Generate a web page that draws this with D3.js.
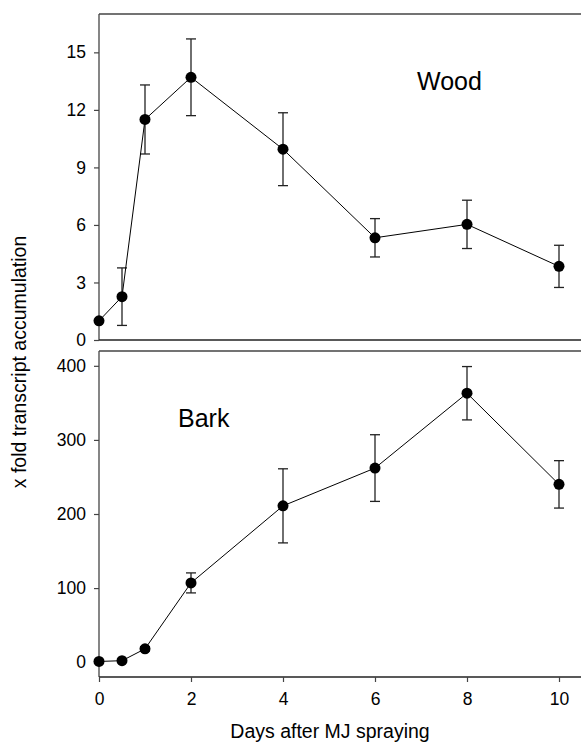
<!DOCTYPE html>
<html>
<head>
<meta charset="utf-8">
<script src="https://cdn.jsdelivr.net/npm/d3@7"></script>
<style>
  html, body { margin: 0; padding: 0; background: #fff; }
  svg { display: block; font-family: "Liberation Sans", Arial, sans-serif; }
</style>
</head>
<body>
<svg id="chart" width="581" height="743"></svg>
<script>
// Days after methyl jasmonate spraying
const days = [0, 0.5, 1, 2, 4, 6, 8, 10];

// Wood: fold accumulation and error
const woodMean = [1.0, 2.26, 11.5, 13.7, 9.95, 5.33, 6.03, 3.84];
const woodErr  = [0.05, 1.5, 1.8, 2.0, 1.9, 1.0, 1.26, 1.1];

// Bark: fold accumulation and error
const barkMean = [1, 2, 18, 107, 211, 262, 363, 240];
const barkErr  = [0.5, 1, 3, 13.5, 50, 45, 36, 32];

const woodTicks = [0, 3, 6, 9, 12, 15];
const barkTicks = [0, 100, 200, 300, 400];
const dayTicks  = [0, 2, 4, 6, 8, 10];

const svg = d3.select("#chart");
const frameColor = "#444";

const x = d3.scaleLinear().domain([0, 10.5]).range([99, 582]);

const panels = [
  { name: "Wood", mean: woodMean, err: woodErr, ticks: woodTicks,
    y: d3.scaleLinear().domain([0, 17]).range([340, 14]),
    label: { x: 417, y: 90 } },
  { name: "Bark", mean: barkMean, err: barkErr, ticks: barkTicks,
    y: d3.scaleLinear().domain([-20, 420]).range([677, 351]),
    label: { x: 178, y: 427 } }
];

panels.forEach((p, idx) => {
  const g = svg.append("g");
  const [y0, y1] = p.y.range();

  // left axis with ticks
  const yAxis = d3.axisLeft(p.y).tickValues(p.ticks).tickSize(5).tickPadding(8)
    .tickFormat(d3.format("d"));
  const ya = g.append("g").attr("transform", `translate(${x(0)},0)`).call(yAxis);
  ya.select(".domain").remove();
  ya.selectAll(".tick line").attr("stroke", frameColor).attr("stroke-width", 1.2);
  ya.selectAll(".tick text").attr("font-size", 17.5).attr("fill", "#000")
    .attr("font-family", "'Liberation Sans', Arial, sans-serif");

  // frame: left, top and bottom lines
  g.append("line").attr("x1", x(0)).attr("x2", x(0)).attr("y1", y1).attr("y2", y0)
    .attr("stroke", frameColor).attr("stroke-width", 1.3);
  g.append("line").attr("x1", x(0)).attr("x2", x.range()[1]).attr("y1", y1).attr("y2", y1)
    .attr("stroke", frameColor).attr("stroke-width", 1.5);
  g.append("line").attr("x1", x(0)).attr("x2", x.range()[1]).attr("y1", y0).attr("y2", y0)
    .attr("stroke", "#222").attr("stroke-width", 1.3);

  // bottom x axis ticks on the lower panel
  if (idx === 1) {
    const xAxis = d3.axisBottom(x).tickValues(dayTicks).tickSize(5).tickPadding(11)
      .tickFormat(d3.format("d"));
    const xa = g.append("g").attr("transform", `translate(0,${y0})`).call(xAxis);
    xa.select(".domain").remove();
    xa.selectAll(".tick line").attr("stroke", frameColor).attr("stroke-width", 1.2);
    xa.selectAll(".tick text").attr("font-size", 17.5).attr("fill", "#000")
      .attr("font-family", "'Liberation Sans', Arial, sans-serif");
  }

  const pts = days.map((d, i) => ({ d, m: p.mean[i], e: p.err[i] }));

  // error bars
  const eb = g.append("g").attr("stroke", "#222").attr("stroke-width", 1.3);
  pts.forEach(pt => {
    const cx = x(pt.d), top = p.y(pt.m + pt.e), bot = p.y(pt.m - pt.e);
    eb.append("line").attr("x1", cx).attr("x2", cx).attr("y1", top).attr("y2", bot);
    eb.append("line").attr("x1", cx - 5).attr("x2", cx + 5).attr("y1", top).attr("y2", top);
    eb.append("line").attr("x1", cx - 5).attr("x2", cx + 5).attr("y1", bot).attr("y2", bot);
  });

  // connecting line
  const line = d3.line().x(pt => x(pt.d)).y(pt => p.y(pt.m));
  g.append("path").datum(pts).attr("d", line).attr("fill", "none")
    .attr("stroke", "#000").attr("stroke-width", 1);

  // markers
  g.selectAll("circle.pt").data(pts).join("circle").attr("class", "pt")
    .attr("cx", pt => x(pt.d)).attr("cy", pt => p.y(pt.m)).attr("r", 5.5)
    .attr("fill", "#000");

  // panel label
  g.append("text").attr("x", p.label.x).attr("y", p.label.y)
    .attr("font-size", 25).attr("fill", "#000").text(p.name);
});

// axis titles
svg.append("text").attr("x", 330).attr("y", 738).attr("text-anchor", "middle")
  .attr("font-size", 19.5).attr("fill", "#000").text("Days after MJ spraying");
svg.append("text").attr("transform", "translate(26,362) rotate(-90)")
  .attr("text-anchor", "middle").attr("font-size", 19.5).attr("fill", "#000")
  .text("x fold transcript accumulation");
</script>
</body>
</html>
